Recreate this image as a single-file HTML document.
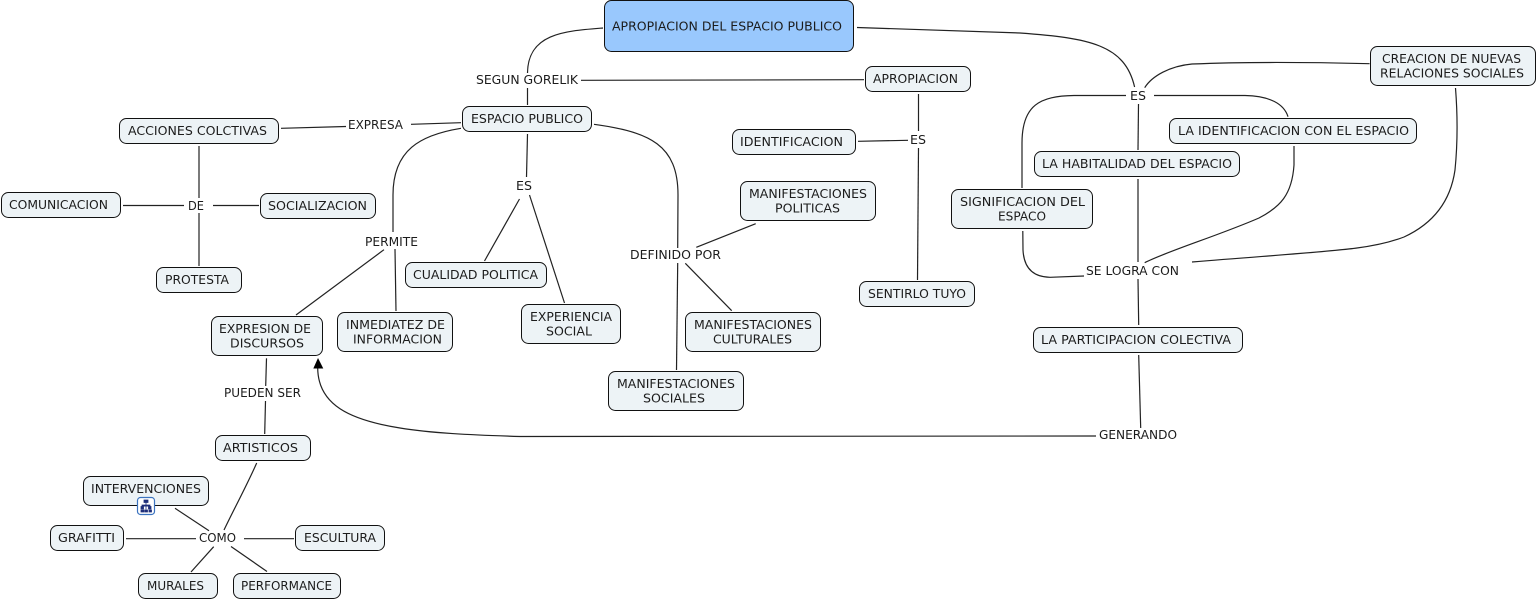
<!DOCTYPE html>
<html><head><meta charset="utf-8"><style>
html,body{margin:0;padding:0;background:#fff}
svg{display:block}
text{font-family:"DejaVu Sans","Liberation Sans",sans-serif;font-size:12px;fill:#1c1c1c}
.n rect{fill:#edf3f6;stroke:#111;stroke-width:1}
.l path{fill:none;stroke:#222;stroke-width:1.2}
</style></head><body>
<svg width="1537" height="601" viewBox="0 0 1537 601" xmlns="http://www.w3.org/2000/svg">
<g class="l">
<path d="M603 28C565 31 528 33 527.5 73"/>
<path d="M527.5 88V105"/>
<path d="M581 80.3L864 79.7"/>
<path d="M857 27.5L1020 33C1090 38 1125 45 1134.6 87"/>
<path d="M1369.6 63.7C1300 62 1240 62 1192 64C1170 66 1152 76 1144.7 87.7"/>
<path d="M1126 95.5H1074C1040 96 1022 105 1022 143V188"/>
<path d="M1154 95.5H1245C1270 96 1284 104 1288 116.7"/>
<path d="M1138.5 104L1138 150"/>
<path d="M1138 179V262"/>
<path d="M1294 146V165C1292 195 1280 207 1259 218C1220 235 1165 252 1144.7 262.7"/>
<path d="M1455.5 88C1458 120 1457 150 1455 170C1450 205 1430 225 1404 237C1370 250 1340 250 1192 262"/>
<path d="M1022.8 231L1023 250C1024 270 1035 277 1050 277.3L1084 276"/>
<path d="M1138 279L1138.7 325"/>
<path d="M1138.7 355L1140.7 428"/>
<path d="M1096 436L520 436.5C470 435 430 433 400 428C350 420 318 405 317.7 368"/>
<path d="M281 128.3L346 126.5"/>
<path d="M411 124.3L461 122.7"/>
<path d="M461 128.3C420 135 393 150 393 195V232"/>
<path d="M384 249.7L296 315"/>
<path d="M395 249L396 311"/>
<path d="M199 146V198"/>
<path d="M199 213V266"/>
<path d="M123 205.5H184"/>
<path d="M213 205.5H259"/>
<path d="M527.5 134L526.5 177"/>
<path d="M519.5 199L484.5 261"/>
<path d="M529.5 195L564.5 303"/>
<path d="M918.5 94V131"/>
<path d="M858 141.3L908 140.3"/>
<path d="M918.5 148L917.5 280"/>
<path d="M594 124.3C650 132 678 145 678 195L677.7 248"/>
<path d="M696.3 247.3L755.7 223.7"/>
<path d="M685.3 263.3L731.7 310.7"/>
<path d="M677.7 263L676.5 370"/>
<path d="M266.5 358.3L265.7 386"/>
<path d="M265.5 401L264.7 434"/>
<path d="M256.7 463C246 487 235 507 224 530"/>
<path d="M175 508.3L209 530.7"/>
<path d="M126 538.7H196"/>
<path d="M244 538.7H294"/>
<path d="M213.7 546.7L191 572"/>
<path d="M231 546.5L267 571.5"/>
</g>
<polygon points="318,358 313.3,368.5 323.3,368.5" fill="#000"/>
<g class="n">
<rect x="604.5" y="0.5" width="249" height="51" rx="7" style="fill:#99c8fd"/>
<rect x="119.5" y="118.5" width="159" height="25" rx="7"/>
<rect x="1.5" y="192.5" width="119" height="25" rx="7"/>
<rect x="260.5" y="193.5" width="115" height="25" rx="7"/>
<rect x="156.5" y="267.5" width="85" height="25" rx="7"/>
<rect x="462.5" y="106.5" width="129" height="25" rx="7"/>
<rect x="405.5" y="262.5" width="141" height="25" rx="7"/>
<rect x="211.5" y="316.5" width="111" height="39" rx="7"/>
<rect x="337.5" y="312.5" width="115" height="39" rx="7"/>
<rect x="215.5" y="435.5" width="95" height="25" rx="7"/>
<rect x="83.5" y="476.5" width="125" height="29" rx="7"/>
<rect x="50.5" y="525.5" width="73" height="25" rx="7"/>
<rect x="295.5" y="525.5" width="89" height="25" rx="7"/>
<rect x="138.5" y="573.5" width="79" height="25" rx="7"/>
<rect x="233.5" y="573.5" width="107" height="25" rx="7"/>
<rect x="865.5" y="66.5" width="105" height="25" rx="7"/>
<rect x="732.5" y="129.5" width="123" height="25" rx="7"/>
<rect x="740.5" y="181.5" width="135" height="39" rx="7"/>
<rect x="951.5" y="189.5" width="141" height="39" rx="7"/>
<rect x="859.5" y="281.5" width="115" height="25" rx="7"/>
<rect x="521.5" y="304.5" width="99" height="39" rx="7"/>
<rect x="685.5" y="312.5" width="135" height="39" rx="7"/>
<rect x="608.5" y="371.5" width="135" height="39" rx="7"/>
<rect x="1034.5" y="151.5" width="205" height="25" rx="7"/>
<rect x="1169.5" y="118.5" width="247" height="25" rx="7"/>
<rect x="1033.5" y="327.5" width="209" height="25" rx="7"/>
<rect x="1370.5" y="46.5" width="165" height="39" rx="7"/>
</g>
<g>
<rect x="137.5" y="497.5" width="17" height="17" rx="3" fill="#fff" stroke="#3b73c0" stroke-width="1.2"/>
<path d="M144 500h4v2.5h-4zM141 506.5h2.5v2.5H141zM148.500 506.500h2.500v2.500h-2.500zM141 510h3v2h-3zM145 510h2.500v2H145zM149 510h2.500v2H149zM146 502.500v7M142 506.500v-1.500h8v1.500" fill="#1f2f7a" stroke="#1f2f7a" stroke-width=".8"/>
</g>
<g>
<text x="612" y="30.500" textLength="230" lengthAdjust="spacingAndGlyphs">APROPIACION DEL ESPACIO PUBLICO</text>
<text x="128" y="135" textLength="139" lengthAdjust="spacingAndGlyphs">ACCIONES COLCTIVAS</text>
<text x="9" y="209" textLength="99" lengthAdjust="spacingAndGlyphs">COMUNICACION</text>
<text x="268" y="210" textLength="99" lengthAdjust="spacingAndGlyphs">SOCIALIZACION</text>
<text x="165" y="284" textLength="64" lengthAdjust="spacingAndGlyphs">PROTESTA</text>
<text x="471" y="123" textLength="112" lengthAdjust="spacingAndGlyphs">ESPACIO PUBLICO</text>
<text x="413" y="279" textLength="125" lengthAdjust="spacingAndGlyphs">CUALIDAD POLITICA</text>
<text x="219" y="333" textLength="92" lengthAdjust="spacingAndGlyphs">EXPRESION DE</text>
<text x="230" y="347.500" textLength="74" lengthAdjust="spacingAndGlyphs">DISCURSOS</text>
<text x="346" y="329" textLength="99" lengthAdjust="spacingAndGlyphs">INMEDIATEZ DE</text>
<text x="353" y="343.500" textLength="89" lengthAdjust="spacingAndGlyphs">INFORMACION</text>
<text x="223" y="452" textLength="75" lengthAdjust="spacingAndGlyphs">ARTISTICOS</text>
<text x="91" y="493" textLength="110" lengthAdjust="spacingAndGlyphs">INTERVENCIONES</text>
<text x="58" y="542" textLength="57" lengthAdjust="spacingAndGlyphs">GRAFITTI</text>
<text x="304" y="542" textLength="72" lengthAdjust="spacingAndGlyphs">ESCULTURA</text>
<text x="147" y="590" textLength="57" lengthAdjust="spacingAndGlyphs">MURALES</text>
<text x="241" y="590" textLength="91" lengthAdjust="spacingAndGlyphs">PERFORMANCE</text>
<text x="873" y="83" textLength="85" lengthAdjust="spacingAndGlyphs">APROPIACION</text>
<text x="740" y="146" textLength="103" lengthAdjust="spacingAndGlyphs">IDENTIFICACION</text>
<text x="749" y="198" textLength="118" lengthAdjust="spacingAndGlyphs">MANIFESTACIONES</text>
<text x="775" y="212.500" textLength="65" lengthAdjust="spacingAndGlyphs">POLITICAS</text>
<text x="960" y="206" textLength="125" lengthAdjust="spacingAndGlyphs">SIGNIFICACION DEL</text>
<text x="998" y="220.500" textLength="48" lengthAdjust="spacingAndGlyphs">ESPACO</text>
<text x="868" y="298" textLength="98" lengthAdjust="spacingAndGlyphs">SENTIRLO TUYO</text>
<text x="530" y="321" textLength="82" lengthAdjust="spacingAndGlyphs">EXPERIENCIA</text>
<text x="546" y="335.500" textLength="46" lengthAdjust="spacingAndGlyphs">SOCIAL</text>
<text x="694" y="329" textLength="118" lengthAdjust="spacingAndGlyphs">MANIFESTACIONES</text>
<text x="713" y="343.500" textLength="79" lengthAdjust="spacingAndGlyphs">CULTURALES</text>
<text x="617" y="388" textLength="118" lengthAdjust="spacingAndGlyphs">MANIFESTACIONES</text>
<text x="643" y="402.500" textLength="62" lengthAdjust="spacingAndGlyphs">SOCIALES</text>
<text x="1042" y="168" textLength="190" lengthAdjust="spacingAndGlyphs">LA HABITALIDAD DEL ESPACIO</text>
<text x="1178" y="135" textLength="231" lengthAdjust="spacingAndGlyphs">LA IDENTIFICACION CON EL ESPACIO</text>
<text x="1041" y="344" textLength="190" lengthAdjust="spacingAndGlyphs">LA PARTICIPACION COLECTIVA</text>
<text x="1382" y="63" textLength="139" lengthAdjust="spacingAndGlyphs">CREACION DE NUEVAS</text>
<text x="1380" y="77.500" textLength="144" lengthAdjust="spacingAndGlyphs">RELACIONES SOCIALES</text>
<text x="348" y="129" textLength="55" lengthAdjust="spacingAndGlyphs">EXPRESA</text>
<text x="476" y="84" textLength="102" lengthAdjust="spacingAndGlyphs">SEGUN GORELIK</text>
<text x="365" y="246" textLength="53" lengthAdjust="spacingAndGlyphs">PERMITE</text>
<text x="188" y="210" textLength="16" lengthAdjust="spacingAndGlyphs">DE</text>
<text x="516" y="190" textLength="16" lengthAdjust="spacingAndGlyphs">ES</text>
<text x="910" y="144" textLength="16" lengthAdjust="spacingAndGlyphs">ES</text>
<text x="630" y="259" textLength="91" lengthAdjust="spacingAndGlyphs">DEFINIDO POR</text>
<text x="224" y="397" textLength="77" lengthAdjust="spacingAndGlyphs">PUEDEN SER</text>
<text x="199" y="542" textLength="37" lengthAdjust="spacingAndGlyphs">COMO</text>
<text x="1130" y="100" textLength="16" lengthAdjust="spacingAndGlyphs">ES</text>
<text x="1086" y="275" textLength="93" lengthAdjust="spacingAndGlyphs">SE LOGRA CON</text>
<text x="1099" y="439" textLength="78" lengthAdjust="spacingAndGlyphs">GENERANDO</text>
</g>
</svg>
</body></html>
